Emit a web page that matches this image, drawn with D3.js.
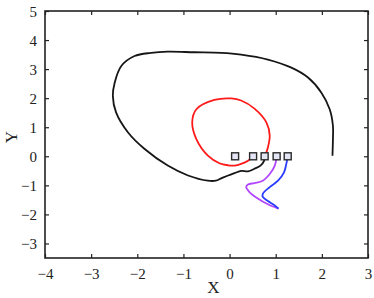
<!DOCTYPE html>
<html>
<head>
<meta charset="utf-8">
<script src="https://cdn.jsdelivr.net/npm/d3@7"></script>
<style>
  body { margin: 0; background: #fff; }
  text { font-family: "Liberation Serif", "DejaVu Serif", serif; fill: #222; }
</style>
</head>
<body>
<svg id="chart" width="374" height="298"></svg>
<script>
// axis ticks
const xTicks = [-4, -3, -2, -1, 0, 1, 2, 3];
const yTicks = [-3, -2, -1, 0, 1, 2, 3, 4, 5];

// start points (squares)
const startX = [0.12, 0.51, 0.76, 1.02, 1.26];
const startY = [0, 0, 0, 0, 0];

// trajectories
const blackPath = [
  [2.23, 0.02], [2.24, 0.59], [2.24, 1.05], [2.17, 1.62], [1.99, 2.19], [1.70, 2.71],
  [1.34, 3.05], [0.83, 3.33], [0.25, 3.50], [-0.18, 3.56], [-0.76, 3.58], [-1.34, 3.60],
  [-1.70, 3.56], [-2.06, 3.45], [-2.35, 3.10], [-2.49, 2.53], [-2.53, 2.08], [-2.46, 1.51],
  [-2.20, 0.82], [-1.84, 0.25], [-1.34, -0.32], [-0.90, -0.66], [-0.47, -0.84], [-0.30, -0.84],
  [-0.18, -0.76], [-0.03, -0.66], [0.11, -0.58], [0.25, -0.50], [0.40, -0.52], [0.54, -0.43],
  [0.67, -0.32], [0.75, -0.15], [0.76, 0]
];
const redPath = [
  [0.51, 0], [0.40, -0.15], [0.25, -0.26], [0.11, -0.32], [-0.03, -0.31], [-0.22, -0.24],
  [-0.47, 0.02], [-0.72, 0.59], [-0.81, 1.16], [-0.72, 1.62], [-0.33, 1.94], [0.04, 1.99],
  [0.25, 1.92], [0.54, 1.64], [0.80, 1.16], [0.87, 0.71], [0.83, 0.30], [0.79, 0.10], [0.76, 0]
];
const purplePath = [
  [1.02, 0], [0.98, -0.32], [0.87, -0.61], [0.72, -0.84], [0.54, -0.92], [0.40, -0.97],
  [0.36, -1.06], [0.43, -1.23], [0.62, -1.46], [0.83, -1.65], [1.06, -1.80]
];
const bluePath = [
  [1.26, 0], [1.23, -0.26], [1.18, -0.55], [1.05, -0.84], [0.87, -1.06], [0.72, -1.29],
  [0.72, -1.40], [0.83, -1.54], [0.98, -1.69], [1.06, -1.80]
];

const svg = d3.select("#chart");
const margin = {top: 11, right: 6, bottom: 40, left: 45};
const width = 374 - margin.left - margin.right,
      height = 298 - margin.top - margin.bottom;

const x = d3.scaleLinear().domain([-4, 3]).range([0, width]);
const y = d3.scaleLinear().domain([-3.5, 5]).range([height, 0]);

const g = svg.append("g").attr("transform", `translate(${margin.left},${margin.top})`);

const line = d3.line()
  .x(d => x(d[0]))
  .y(d => y(d[1]))
  .curve(d3.curveCatmullRom);

// curves
[[blackPath, "#161616"], [redPath, "#ff1a1a"], [purplePath, "#b347ff"], [bluePath, "#2a3cff"]]
  .forEach(function(p) {
    g.append("path").datum(p[0])
      .attr("fill", "none")
      .attr("stroke", p[1])
      .attr("stroke-width", 1.8)
      .attr("stroke-linejoin", "round")
      .attr("d", line);
  });

// start squares
g.selectAll("rect.start").data(startX).enter().append("rect")
  .attr("class", "start")
  .attr("x", d => x(d) - 3.5)
  .attr("y", (d, i) => y(startY[i]) - 3.5)
  .attr("width", 7).attr("height", 7)
  .attr("fill", "#e4e6f6")
  .attr("stroke", "#2a2a2a")
  .attr("stroke-width", 1.4);

// axes, ticks inward on all four sides
const tickLen = 4;
const fmt = d3.format("d");
const axB = d3.axisBottom(x).tickValues(xTicks).tickFormat(fmt).tickSizeInner(-tickLen).tickSizeOuter(0).tickPadding(10);
const axL = d3.axisLeft(y).tickValues(yTicks).tickFormat(fmt).tickSizeInner(-tickLen).tickSizeOuter(0).tickPadding(8);
const axT = d3.axisTop(x).tickValues(xTicks).tickSizeInner(-tickLen).tickSizeOuter(0).tickFormat("");
const axR = d3.axisRight(y).tickValues(yTicks).tickSizeInner(-tickLen).tickSizeOuter(0).tickFormat("");

const gb = g.append("g").attr("transform", `translate(0,${height})`).call(axB);
const gl = g.append("g").call(axL);
g.append("g").call(axT);
g.append("g").attr("transform", `translate(${width},0)`).call(axR);

g.selectAll(".domain").remove();
g.selectAll(".tick line").attr("stroke", "#222").attr("stroke-width", 1.2);
g.selectAll(".tick text")
  .style("font-family", "'Liberation Serif', serif")
  .style("font-size", "15px")
  .attr("fill", "#222");
gl.selectAll("text").attr("dy", "0.34em");

g.append("rect")
  .attr("width", width).attr("height", height)
  .attr("fill", "none")
  .attr("stroke", "#222")
  .attr("stroke-width", 1.6);

// axis labels
svg.append("text")
  .attr("x", margin.left + x(-0.35)).attr("y", 293)
  .attr("text-anchor", "middle")
  .attr("font-size", 17)
  .text("X");

svg.append("text")
  .attr("transform", "translate(17,137) rotate(-90)")
  .attr("text-anchor", "middle")
  .attr("font-size", 17)
  .text("Y");
</script>
</body>
</html>
